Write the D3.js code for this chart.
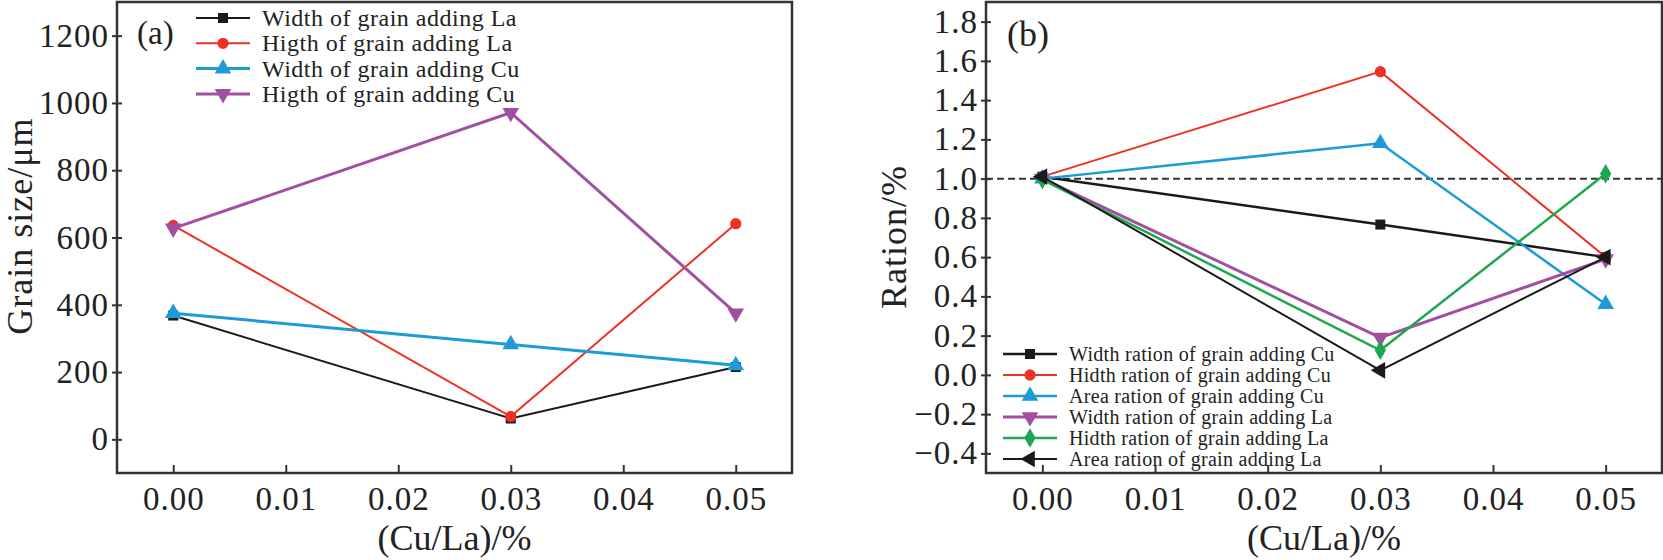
<!DOCTYPE html>
<html>
<head>
<meta charset="utf-8">
<script src="https://cdn.jsdelivr.net/npm/d3@7"></script>
<style>
  body { margin: 0; background: #fff; }
  text { font-family: "Liberation Serif", "Times New Roman", serif; fill: #222; }
</style>
</head>
<body>
<script>
// data
var xTicks = [0, 0.01, 0.02, 0.03, 0.04, 0.05]
var xVals = [0, 0.03, 0.05]

var sizeTicks = [0, 200, 400, 600, 800, 1000, 1200]
var widthLa = [368, 62, 215]
var higthLa = [636, 68, 641]
var widthCu = [375, 282, 220]
var higthCu = [627, 971, 375]
var sizeNames = ["Width of grain adding La", "Higth of grain adding La",
                 "Width of grain adding Cu", "Higth of grain adding Cu"]

var ratioTicks = [-0.4, -0.2, 0, 0.2, 0.4, 0.6, 0.8, 1.0, 1.2, 1.4, 1.6, 1.8]
var wRatioCu = [1.01, 0.766, 0.60]
var hRatioCu = [1.01, 1.545, 0.60]
var aRatioCu = [1.00, 1.18, 0.36]
var wRatioLa = [1.00, 0.19, 0.59]
var hRatioLa = [0.995, 0.125, 1.025]
var aRatioLa = [1.01, 0.023, 0.60]
var ratioNames = ["Width ration of grain adding Cu", "Hidth ration of grain adding Cu",
                  "Area ration of grain adding Cu", "Width ration of grain adding La",
                  "Hidth ration of grain adding La", "Area ration of grain adding La"]

var BLACK = "#1a1a1a", RED = "#ee3124", BLUE = "#1e9ad6", PURPLE = "#a0509e", GREEN = "#1ea650"

var svg = d3.select("body").append("svg")
  .attr("width", 1663)
  .attr("height", 560)

// marker shapes
var sym = {
  square: {type: d3.symbolSquare, size: 100, rot: 0},
  circle: {type: d3.symbolCircle, size: 100, rot: 0},
  up: {type: d3.symbolTriangle, size: 120, rot: 0},
  down: {type: d3.symbolTriangle, size: 120, rot: 180},
  diamond: {type: d3.symbolDiamond, size: 110, rot: 0},
  left: {type: d3.symbolTriangle, size: 120, rot: -90}
}

function drawPanel(o) {
  var x = d3.scaleLinear().domain([-0.005, 0.055]).range([o.left, o.right])
  var y = d3.scaleLinear().domain(o.yDomain).range([o.bottom, o.top])
  var g = svg.append("g")

  var yAxis = d3.axisLeft(y).tickValues(o.yTicks).tickFormat(o.yFmt)
    .tickSizeInner(5).tickSizeOuter(0).tickPadding(3)
  var ya = g.append("g").attr("transform", "translate(" + o.left + ",0)").call(yAxis)
  ya.select(".domain").remove()
  ya.selectAll(".tick line").attr("x1", 5).attr("x2", -5)   // ticks cross the axis
  ya.selectAll("text").style("font-size", "33px").style("letter-spacing", "1px")

  var xAxis = d3.axisBottom(x).tickValues(xTicks).tickFormat(d3.format(".2f"))
    .tickSizeInner(-8).tickSizeOuter(0).tickPadding(14)
  var xa = g.append("g").attr("transform", "translate(0," + o.bottom + ")").call(xAxis)
  xa.select(".domain").remove()
  xa.selectAll("text").style("font-size", "33px").style("letter-spacing", "1px")

  g.selectAll(".tick line").attr("stroke", "#333").attr("stroke-width", 2)

  if (o.refLine != null) {
    g.append("line")
      .attr("x1", o.left).attr("x2", o.right)
      .attr("y1", y(o.refLine)).attr("y2", y(o.refLine))
      .attr("stroke", "#333").attr("stroke-width", 2)
      .attr("stroke-dasharray", "7,4")
  }

  var line = d3.line().x(function(d, i) { return x(xVals[i]) }).y(function(d) { return y(d) })

  o.series.forEach(function(s) {
    g.append("path")
      .attr("d", line(s.values))
      .attr("fill", "none")
      .attr("stroke", s.color)
      .attr("stroke-width", s.width)
    var m = sym[s.shape]
    g.selectAll(null).data(s.values).enter().append("path")
      .attr("d", d3.symbol().type(m.type).size(m.size))
      .attr("transform", function(d, i) {
        return "translate(" + x(xVals[i]) + "," + y(d) + ") rotate(" + m.rot + ")"
      })
      .attr("fill", s.color)
  })

  // frame
  g.append("rect")
    .attr("x", o.left).attr("y", o.top)
    .attr("width", o.right - o.left).attr("height", o.bottom - o.top)
    .attr("fill", "none").attr("stroke", "#333").attr("stroke-width", 2.5)

  // legend
  var lg = o.legend
  o.series.forEach(function(s, i) {
    var ly = lg.y + i * lg.step
    g.append("line")
      .attr("x1", lg.x).attr("x2", lg.x + 54)
      .attr("y1", ly).attr("y2", ly)
      .attr("stroke", s.color).attr("stroke-width", s.width)
    var m = sym[s.shape]
    g.append("path")
      .attr("d", d3.symbol().type(m.type).size(m.size))
      .attr("transform", "translate(" + (lg.x + 27) + "," + ly + ") rotate(" + m.rot + ")")
      .attr("fill", s.color)
    g.append("text")
      .attr("x", lg.x + 66).attr("y", ly)
      .attr("dy", "0.33em")
      .style("font-size", lg.font + "px")
      .style("letter-spacing", lg.ls + "px")
      .text(s.name)
  })

  g.append("text")
    .attr("x", o.tag[0]).attr("y", o.tag[1])
    .style("font-size", o.tag[2] + "px")
    .text(o.tag[3])

  g.append("text")
    .attr("x", (o.left + o.right) / 2).attr("y", 550)
    .attr("text-anchor", "middle")
    .style("font-size", "36px")
    .text("(Cu/La)/%")

  g.append("text")
    .attr("transform", "translate(" + o.yTitle[1] + "," + o.yTitle[2] + ") rotate(-90)")
    .attr("text-anchor", "middle")
    .style("font-size", "36px")
    .style("letter-spacing", "1px")
    .text(o.yTitle[0])
}

drawPanel({
  left: 117, right: 792, top: 2, bottom: 473,
  yDomain: [-100, 1300], yTicks: sizeTicks, yFmt: d3.format("d"),
  yTitle: ["Grain size/\u03bcm", 32, 226],
  tag: [137, 44, 33, "(a)"],
  legend: {x: 196, y: 18, step: 25.3, font: 24, ls: 0.5},
  series: [
    {name: sizeNames[0], values: widthLa, color: BLACK, width: 2, shape: "square"},
    {name: sizeNames[1], values: higthLa, color: RED, width: 2, shape: "circle"},
    {name: sizeNames[2], values: widthCu, color: BLUE, width: 3, shape: "up"},
    {name: sizeNames[3], values: higthCu, color: PURPLE, width: 3, shape: "down"}
  ]
})

drawPanel({
  left: 986, right: 1662, top: 2, bottom: 473,
  yDomain: [-0.5, 1.9], yTicks: ratioTicks, yFmt: d3.format(".1f"),
  yTitle: ["Ration/%", 906, 237],
  refLine: 1.0,
  tag: [1007, 46, 36, "(b)"],
  legend: {x: 1003, y: 354, step: 21, font: 20, ls: 0.3},
  series: [
    {name: ratioNames[0], values: wRatioCu, color: BLACK, width: 2.5, shape: "square"},
    {name: ratioNames[1], values: hRatioCu, color: RED, width: 2, shape: "circle"},
    {name: ratioNames[2], values: aRatioCu, color: BLUE, width: 2.5, shape: "up"},
    {name: ratioNames[3], values: wRatioLa, color: PURPLE, width: 3, shape: "down"},
    {name: ratioNames[4], values: hRatioLa, color: GREEN, width: 2.5, shape: "diamond"},
    {name: ratioNames[5], values: aRatioLa, color: BLACK, width: 2, shape: "left"}
  ]
})
</script>
</body>
</html>
